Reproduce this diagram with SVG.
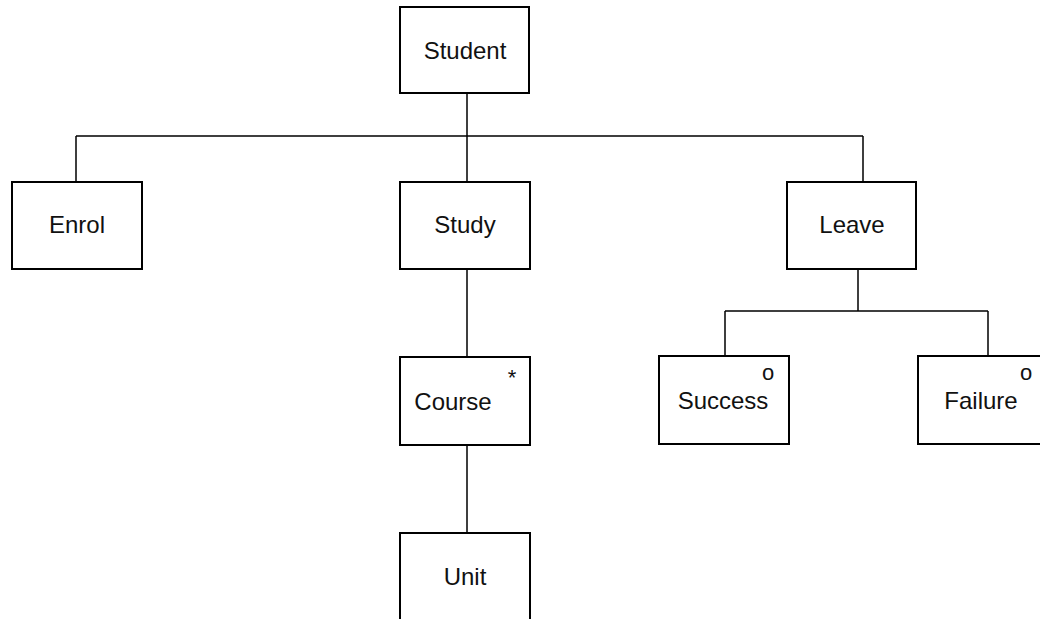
<svg xmlns="http://www.w3.org/2000/svg" width="1040" height="619" viewBox="0 0 1040 619">
<style>
.box{fill:#fff;stroke:#000;stroke-width:2}
.lbl{font-family:"Liberation Sans",Arial,sans-serif;font-size:24px;fill:#111;text-anchor:middle}
.mark{font-family:"Liberation Sans",Arial,sans-serif;font-size:22px;fill:#111;text-anchor:middle}
.conn{fill:none;stroke:#000;stroke-width:1.5}
</style>
<rect width="1040" height="619" fill="#fff"/>
<g id="connectors">
<path class="conn" d="M467 93V136M76 136H863M76 136V182M467 136V182M863 136V182M467 269V357M467 445V533M858 269V311M725 311H988M725 311V356M988 311V356"/>
</g>
<g id="student"><rect class="box" x="400" y="7" width="129" height="86"/><text class="lbl" x="465" y="59">Student</text></g>
<g id="enrol"><rect class="box" x="12" y="182" width="130" height="87"/><text class="lbl" x="77" y="233">Enrol</text></g>
<g id="study"><rect class="box" x="400" y="182" width="130" height="87"/><text class="lbl" x="465" y="233">Study</text></g>
<g id="leave"><rect class="box" x="787" y="182" width="129" height="87"/><text class="lbl" x="852" y="233">Leave</text></g>
<g id="course"><rect class="box" x="400" y="357" width="130" height="88"/><text class="lbl" x="453" y="410">Course</text><text class="mark" x="512" y="385">*</text></g>
<g id="success"><rect class="box" x="659" y="356" width="130" height="88"/><text class="lbl" x="723" y="409">Success</text><text class="mark" x="768" y="380">o</text></g>
<g id="failure"><rect class="box" x="918" y="356" width="130" height="88"/><text class="lbl" x="981" y="409">Failure</text><text class="mark" x="1026" y="380">o</text></g>
<g id="unit"><rect class="box" x="400" y="533" width="130" height="90"/><text class="lbl" x="465" y="585">Unit</text></g>
</svg>
